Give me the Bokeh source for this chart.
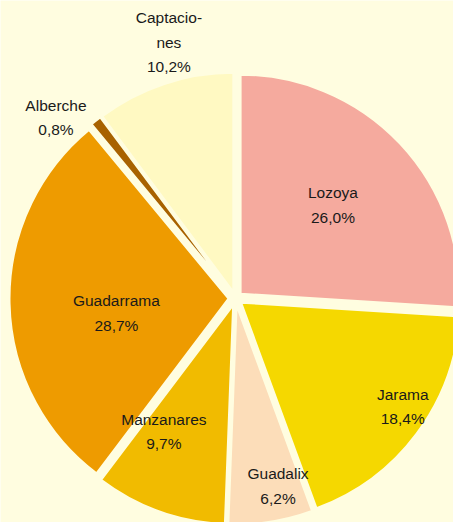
import math
from bokeh.plotting import figure
from bokeh.models import ColumnDataSource, Range1d
from bokeh.core.properties import value
from bokeh.embed import file_html
from bokeh.resources import INLINE

# ---- data ----
categories = ["Lozoya", "Jarama", "Guadalix", "Manzanares", "Guadarrama", "Alberche", "Captaciones"]
label_names = ["Lozoya", "Jarama", "Guadalix", "Manzanares", "Guadarrama", "Alberche", "Captacio-\nnes"]
shares = [26.0, 18.4, 6.2, 9.7, 28.7, 0.8, 10.2]

# ---- style / layout ----
colors = ["#F5AA9E", "#F5D800", "#FCDDB9", "#F1BB00", "#EE9B00", "#A86200", "#FFF9C2"]
bg = "#FFFDE0"
label_r = [135, 199, 192, 151, 120, 255, 265]        # label distance from centre (px)
label_dang = [0.6, 3.9, 3.8, -8.7, 5.7, 6.6, -3.8]    # label angle offset from slice middle (deg)

W, H = 453, 522
cx, cy = 235, H - 298
R = 219
explode = 7

total = sum(shares)
starts, ends, xs, ys, lx, ly, texts = [], [], [], [], [], [], []
a = math.pi / 2
for i, s in enumerate(shares):
    sweep = 2 * math.pi * s / total
    st, en = a, a - sweep
    m = (st + en) / 2
    starts.append(st)
    ends.append(en)
    xs.append(cx + explode * math.cos(m))
    ys.append(cy + explode * math.sin(m))
    la = m + math.radians(label_dang[i])
    lx.append(cx + label_r[i] * math.cos(la))
    ly.append(cy + label_r[i] * math.sin(la))
    texts.append(f"{label_names[i]}\n{shares[i]:.1f}%".replace(".", ","))
    a = en

src = ColumnDataSource(dict(x=xs, y=ys, start=starts, end=ends, color=colors, cat=categories))
lsrc = ColumnDataSource(dict(x=lx, y=ly, text=texts))

p = figure(width=W, height=H, output_backend="svg", toolbar_location=None,
           x_range=Range1d(0, W), y_range=Range1d(0, H),
           x_axis_type=None, y_axis_type=None, min_border=0)
p.grid.visible = False
p.outline_line_color = None
p.background_fill_color = bg
p.border_fill_color = bg

p.wedge(x="x", y="y", radius=R, start_angle="start", end_angle="end", direction="clock",
        fill_color="color", line_color=bg, line_width=2, source=src)

p.text(x="x", y="y", text="text", source=lsrc, text_align="center", text_baseline="middle",
       text_font=value("Liberation Sans"), text_font_size="15.5px", text_line_height=1.45,
       text_color="#1A1A1A")

open("out.html", "w").write(file_html(p, INLINE))
